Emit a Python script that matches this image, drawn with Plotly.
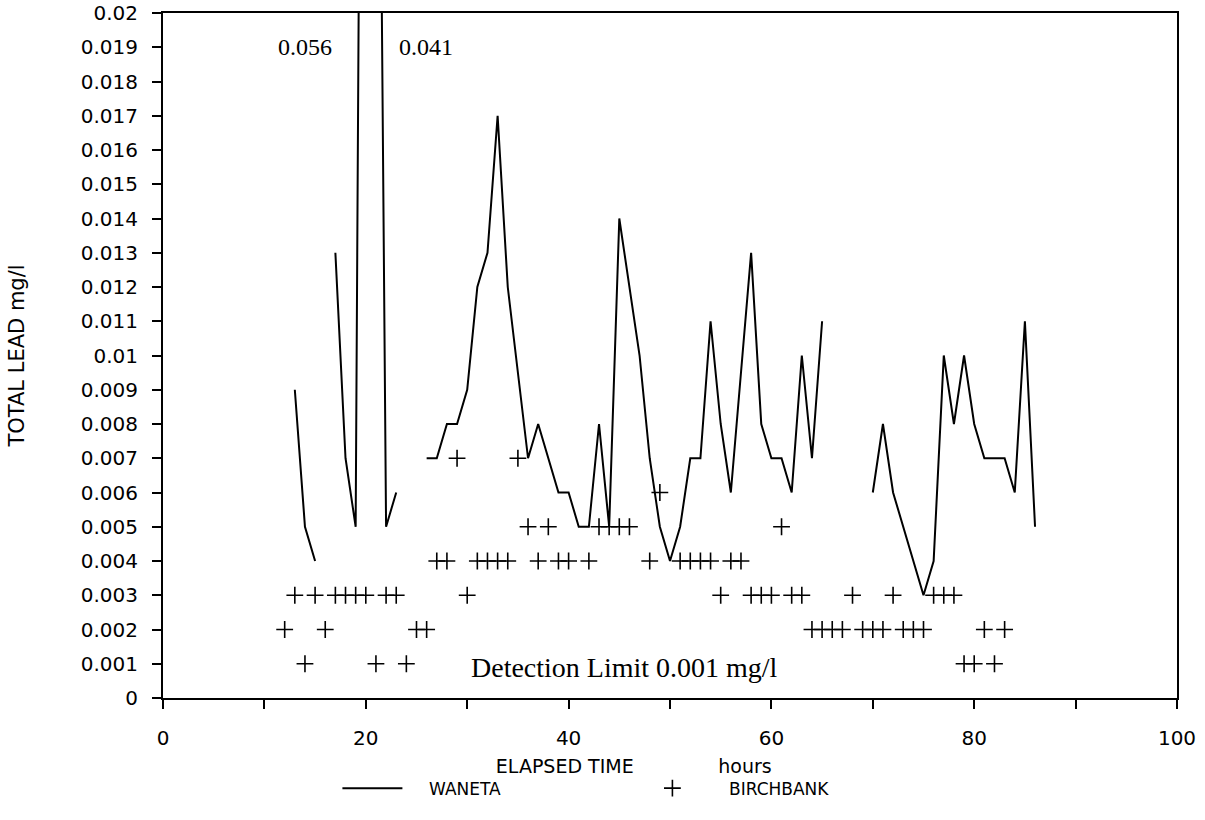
import plotly.graph_objects as go

# ---- data ----
waneta_hours = [13, 14, 15, 16,
                17, 18, 19, 20, 21, 22, 23, 24,
                26, 27, 28, 29, 30, 31, 32, 33, 34, 36, 37, 39, 40, 41, 42, 43, 44, 45,
                47, 48, 49, 50, 51, 52, 53, 54, 55, 56, 58, 59, 60, 61, 62, 63, 64, 65, 66,
                70, 71, 72, 75, 76, 77, 78, 79, 80, 81, 83, 84, 85, 86]
waneta_lead = [0.009, 0.005, 0.004, None,
               0.013, 0.007, 0.005, 0.056, 0.041, 0.005, 0.006, None,
               0.007, 0.007, 0.008, 0.008, 0.009, 0.012, 0.013, 0.017, 0.012, 0.007, 0.008, 0.006, 0.006, 0.005, 0.005, 0.008, 0.005, 0.014,
               0.010, 0.007, 0.005, 0.004, 0.005, 0.007, 0.007, 0.011, 0.008, 0.006, 0.013, 0.008, 0.007, 0.007, 0.006, 0.010, 0.007, 0.011, None,
               0.006, 0.008, 0.006, 0.003, 0.004, 0.010, 0.008, 0.010, 0.008, 0.007, 0.007, 0.006, 0.011, 0.005]

birch_hours = [12, 13, 14, 15, 16, 17, 18, 19, 20, 21, 22, 23, 24, 25, 26, 27, 28, 29, 30,
               31, 32, 33, 34, 35, 36, 37, 38, 39, 40, 42, 43, 44, 45, 46, 48, 49,
               51, 52, 53, 54, 55, 56, 57, 58, 59, 60, 61, 62, 63, 64, 65, 66, 67, 68, 69,
               70, 71, 72, 73, 74, 75, 76, 77, 78, 79, 80, 81, 82, 83]
birch_lead = [0.002, 0.003, 0.001, 0.003, 0.002, 0.003, 0.003, 0.003, 0.003, 0.001, 0.003, 0.003, 0.001, 0.002, 0.002, 0.004, 0.004, 0.007, 0.003,
              0.004, 0.004, 0.004, 0.004, 0.007, 0.005, 0.004, 0.005, 0.004, 0.004, 0.004, 0.005, 0.005, 0.005, 0.005, 0.004, 0.006,
              0.004, 0.004, 0.004, 0.004, 0.003, 0.004, 0.004, 0.003, 0.003, 0.003, 0.005, 0.003, 0.003, 0.002, 0.002, 0.002, 0.002, 0.003, 0.002,
              0.002, 0.002, 0.003, 0.002, 0.002, 0.002, 0.003, 0.003, 0.003, 0.001, 0.001, 0.002, 0.001, 0.002]

x_tick_vals = [0, 10, 20, 30, 40, 50, 60, 70, 80, 90, 100]
x_tick_labels = ["0", "", "20", "", "40", "", "60", "", "80", "", "100"]
y_tick_vals = [0, 0.001, 0.002, 0.003, 0.004, 0.005, 0.006, 0.007, 0.008, 0.009, 0.01,
               0.011, 0.012, 0.013, 0.014, 0.015, 0.016, 0.017, 0.018, 0.019, 0.02]
y_tick_labels = ["0", "0.001", "0.002", "0.003", "0.004", "0.005", "0.006", "0.007", "0.008", "0.009", "0.01",
                 "0.011", "0.012", "0.013", "0.014", "0.015", "0.016", "0.017", "0.018", "0.019", "0.02"]

offscale_labels = ["0.056", "0.041"]
offscale_label_x = [14.0, 25.9]
detection_text = "Detection Limit 0.001 mg/l"

SANS = "DejaVu Sans"
SERIF = "Liberation Serif, Times New Roman, serif"
PAD = "&nbsp;" * 4

fig = go.Figure()
fig.add_trace(go.Scatter(
    x=waneta_hours, y=waneta_lead, mode="lines", name=PAD + "WANETA",
    line=dict(color="black", width=2), connectgaps=False))
fig.add_trace(go.Scatter(
    x=birch_hours, y=birch_lead, mode="markers", name=PAD + "BIRCHBANK",
    marker=dict(symbol="cross-thin", size=12, color="black",
                line=dict(color="black", width=1.6))))

for lab, xv in zip(offscale_labels, offscale_label_x):
    fig.add_annotation(x=xv, y=0.01902, text=lab, showarrow=False,
                       font=dict(family=SERIF, size=24, color="black"))
fig.add_annotation(x=45.5, y=0.0009, text=detection_text, showarrow=False,
                   font=dict(family=SERIF, size=28, color="black"))

fig.update_layout(
    width=1205, height=820,
    margin=dict(l=163, r=28, t=13, b=122, autoexpand=False),
    paper_bgcolor="white", plot_bgcolor="white",
    font=dict(family=SANS, size=17, color="black"),
    showlegend=True,
    legend=dict(orientation="h", x=0.172, y=-0.106, xanchor="left", yanchor="top",
                itemwidth=60, entrywidth=225, entrywidthmode="pixels",
                font=dict(family=SANS, size=17, color="black"),
                bgcolor="rgba(0,0,0,0)"),
    xaxis=dict(range=[0, 100], tickvals=x_tick_vals, ticktext=x_tick_labels,
               ticks="outside", ticklen=9, tickwidth=1.5, tickcolor="black",
               showline=True, linecolor="black", linewidth=2, mirror=True,
               showgrid=False, zeroline=False, ticklabelstandoff=12, automargin=False,
               tickfont=dict(family=SANS, size=20),
               title=dict(text="ELAPSED TIME" + "&nbsp;" * 14 + "hours" + "&nbsp;" * 12,
                          font=dict(family=SANS, size=19), standoff=11)),
    yaxis=dict(range=[0, 0.02], tickvals=y_tick_vals, ticktext=y_tick_labels,
               ticks="outside", ticklen=9, tickwidth=1.5, tickcolor="black",
               showline=True, linecolor="black", linewidth=2, mirror=True,
               showgrid=False, zeroline=False, ticklabelstandoff=10, automargin=False,
               tickfont=dict(family=SANS, size=20),
               title=dict(text="TOTAL LEAD mg/l", font=dict(family=SANS, size=21), standoff=50)),
)

fig.write_html("out.html")
